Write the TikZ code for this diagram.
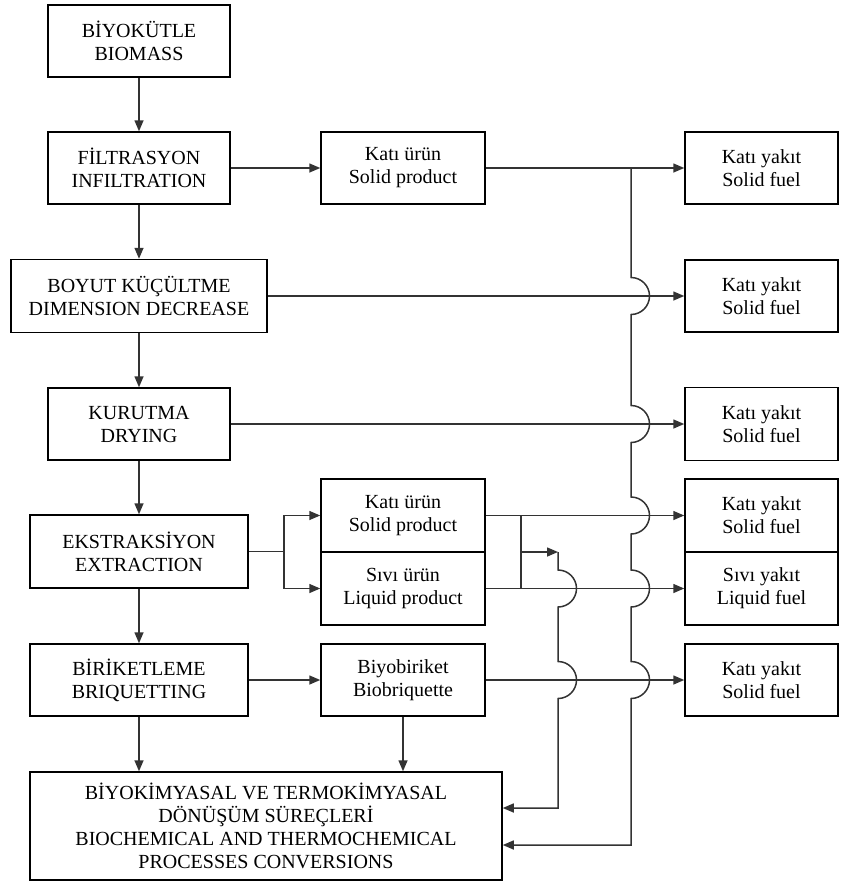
\documentclass[tikz,border=0pt]{standalone}
\usepackage{fontspec}
\setmainfont{Liberation Serif}
\usetikzlibrary{arrows.meta}
\begin{document}
\begin{tikzpicture}[x=1pt,y=-1pt,
  box/.style={draw=black, line width=1.5pt, align=center, inner sep=0pt,
    font=\fontsize{20}{23}\selectfont},
  conn/.style={draw=black!80, line width=1.5pt, -{Triangle[length=11pt,width=9pt]}},
  plain/.style={draw=black!80, line width=1.5pt},
  hop/.style={}]
\fill[white] (0,0) rectangle (842,886);
\useasboundingbox (0,0) rectangle (842,886);
% left column
\node[box, minimum width=182pt, minimum height=72pt] (bio) at (139,41) {BİYOKÜTLE\\BIOMASS};
\node[box, minimum width=182pt, minimum height=72pt] (fil) at (139,168) {FİLTRASYON\\INFILTRATION};
\node[box, minimum width=256pt, minimum height=73pt] (boy) at (139,296) {BOYUT KÜÇÜLTME\\DIMENSION DECREASE};
\node[box, minimum width=182pt, minimum height=72pt] (kur) at (139,424) {KURUTMA\\DRYING};
\node[box, minimum width=218pt, minimum height=73pt] (eks) at (139,551.5) {EKSTRAKSİYON\\EXTRACTION};
\node[box, minimum width=218pt, minimum height=72pt] (bri) at (139,680) {BİRİKETLEME\\BRIQUETTING};
\node[box, minimum width=472pt, minimum height=108pt] (bot) at (266,826) {BİYOKİMYASAL VE TERMOKİMYASAL\\DÖNÜŞÜM SÜREÇLERİ\\BIOCHEMICAL AND THERMOCHEMICAL\\PROCESSES CONVERSIONS};
% middle column
\node[box, minimum width=164pt, minimum height=72pt] (kp1) at (403,168) {Katı ürün\\Solid product};
\node[box, minimum width=164pt, minimum height=73pt] (kp2) at (403,515.5) {Katı ürün\\Solid product};
\node[box, minimum width=164pt, minimum height=73pt] (sp) at (403,588.5) {Sıvı ürün\\Liquid product};
\node[box, minimum width=164pt, minimum height=72pt] (bb) at (403,680) {Biyobiriket\\Biobriquette};
% right column
\node[box, minimum width=153pt, minimum height=72pt] (r1) at (761.5,168) {Katı yakıt\\Solid fuel};
\node[box, minimum width=153pt, minimum height=72pt] (r2) at (761.5,296) {Katı yakıt\\Solid fuel};
\node[box, minimum width=153pt, minimum height=73pt] (r3) at (761.5,424) {Katı yakıt\\Solid fuel};
\node[box, minimum width=153pt, minimum height=73pt] (r4) at (761.5,515.5) {Katı yakıt\\Solid fuel};
\node[box, minimum width=153pt, minimum height=73pt] (r5) at (761.5,588.5) {Sıvı yakıt\\Liquid fuel};
\node[box, minimum width=153pt, minimum height=72pt] (r6) at (761.5,680) {Katı yakıt\\Solid fuel};
% coordinates
\coordinate (je) at (284,551.5);
\coordinate (ja) at (521,515.5);
\coordinate (jb) at (521,588.5);
\coordinate (jm) at (521,552);
\coordinate (h1) at (558,552);
\coordinate (t1) at (558,808);
\coordinate (jv) at (631,168);
\coordinate (t2) at (631,845);
% vertical main chain
\draw[conn] (bio) -- (fil);
\draw[conn] (fil) -- (boy);
\draw[conn] (boy) -- (kur);
\draw[conn] (kur) -- (eks);
\draw[conn] (eks) -- (bri);
\draw[conn] (bri.south) -- (bri.south |- bot.north);
\draw[conn] (bb.south) -- (bb.south |- bot.north);
% horizontal connectors
\draw[conn] (fil) -- (kp1);
\draw[conn] (kp1) -- (r1);
\draw[conn] (boy) -- (r2);
\draw[conn] (kur) -- (r3);
\draw[plain] (eks.east) -- (je);
\draw[conn] (je) |- (kp2.west);
\draw[conn] (je) |- (sp.west);
\draw[conn] (kp2) -- (r4);
\draw[conn] (sp) -- (r5);
\draw[conn] (bri) -- (bb);
\draw[conn] (bb) -- (r6);
% junction at 521
\draw[plain] (ja) -- (jb);
\draw[conn] (jm) -- (h1);
% vertical line at 558 with hops
\draw[conn] (h1) -- (558,570) arc[start angle=90,end angle=-90,radius=18.5pt]
  -- (558,661.5) arc[start angle=90,end angle=-90,radius=18.5pt]
  -- (t1) -- (t1 -| bot.east);
% vertical line at 631 with hops
\draw[conn] (jv) -- (631,277.5) arc[start angle=90,end angle=-90,radius=18.5pt]
  -- (631,405.5) arc[start angle=90,end angle=-90,radius=18.5pt]
  -- (631,497) arc[start angle=90,end angle=-90,radius=18.5pt]
  -- (631,570) arc[start angle=90,end angle=-90,radius=18.5pt]
  -- (631,661.5) arc[start angle=90,end angle=-90,radius=18.5pt]
  -- (t2) -- (t2 -| bot.east);
\end{tikzpicture}
\end{document}
